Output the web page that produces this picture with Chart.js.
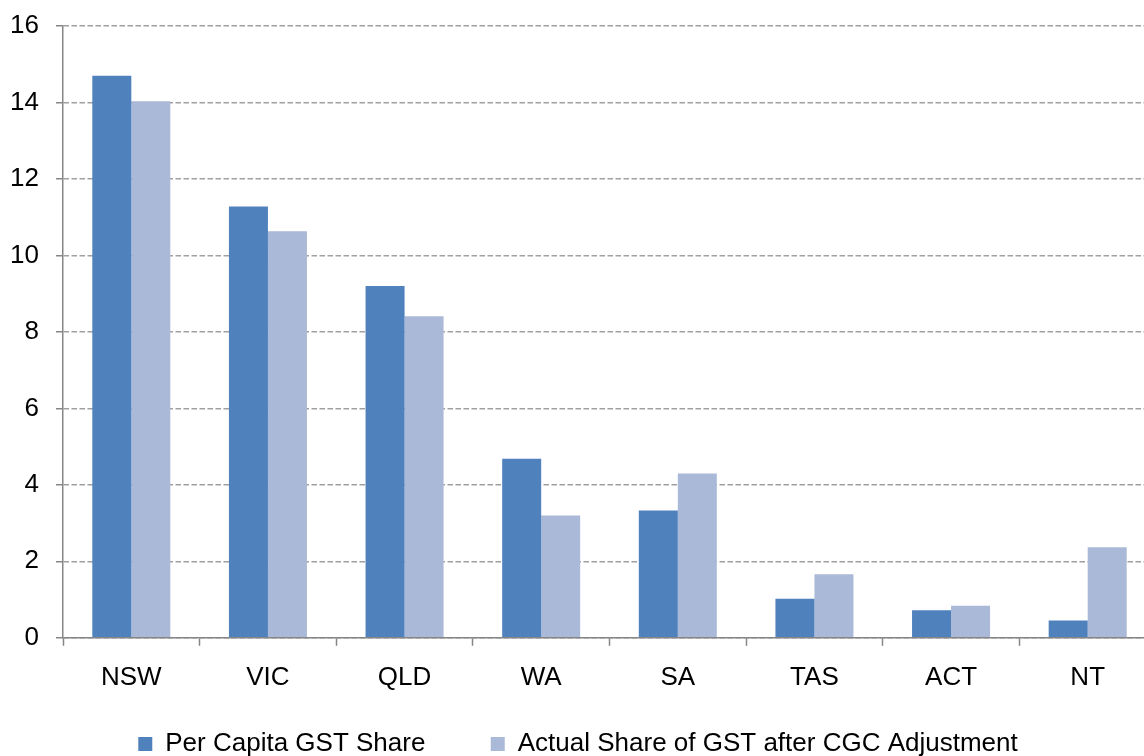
<!DOCTYPE html>
<html>
<head>
<meta charset="utf-8">
<script src="https://cdn.jsdelivr.net/npm/chart.js@4/dist/chart.umd.min.js"></script>
<style>
  html, body { margin: 0; padding: 0; background: #fff; overflow: hidden; }
  #wrap { position: relative; width: 1158px; height: 767px; }
</style>
</head>
<body>
<div id="wrap"><canvas id="chartGst"></canvas></div>
<script>
// states along the x axis
const states = ["NSW", "VIC", "QLD", "WA", "SA", "TAS", "ACT", "NT"];
// per capita GST share (%)
const perCapitaShare = [14.70, 11.28, 9.20, 4.68, 3.33, 1.02, 0.72, 0.45];
// actual share of GST after the CGC adjustment (%)
const actualShare = [14.03, 10.63, 8.41, 3.20, 4.30, 1.66, 0.84, 2.37];
// y axis ticks
const yTicks = [0, 2, 4, 6, 8, 10, 12, 14, 16];

const fontFamily = "'Liberation Sans', Arial, sans-serif";
const axisGrey = "#868686";

var ctx = document.getElementById("chartGst");
var myChart = new Chart(ctx, {
  type: "bar",
  data: {
    labels: states,
    datasets: [
      {
        label: "Per Capita GST Share",
        data: perCapitaShare,
        backgroundColor: "#4f81bd",
        borderWidth: 0,
      },
      {
        label: "Actual Share of GST after CGC Adjustment",
        data: actualShare,
        backgroundColor: "#aab9d7",
        borderWidth: 0,
      },
    ],
  },
  options: {
    responsive: true,
    maintainAspectRatio: false,
    animation: false,
    layout: {
      padding: { left: 0, top: 2, right: 2, bottom: 0 },
    },
    datasets: {
      bar: {
        categoryPercentage: 0.571,
        barPercentage: 1.0,
      },
    },
    scales: {
      x: {
        grid: {
          drawOnChartArea: false,
          drawTicks: true,
          tickLength: 8,
          tickColor: axisGrey,
          tickWidth: 1.5,
          offset: true,
        },
        border: { display: true, color: axisGrey, width: 1.5 },
        ticks: {
          color: "#000",
          padding: 16,
          font: { family: fontFamily, size: 26 },
        },
      },
      y: {
        min: yTicks[0],
        max: yTicks[yTicks.length - 1],
        afterBuildTicks: (axis) => {
          axis.ticks = yTicks.map((v) => ({ value: v }));
        },
        afterFit: (axis) => {
          axis.width = 63;
          axis.paddingTop = 26;
        },
        grid: {
          color: "#a0a0a0",
          lineWidth: 1.5,
          drawTicks: true,
          tickLength: 7,
          tickColor: axisGrey,
          tickWidth: 1.5,
          tickBorderDash: [],
        },
        border: { display: true, color: axisGrey, width: 1.5, dash: [5.5, 2.5] },
        ticks: {
          color: "#000",
          padding: 17,
          font: { family: fontFamily, size: 26 },
        },
      },
    },
    plugins: {
      legend: {
        position: "bottom",
        labels: {
          color: "#000",
          boxWidth: 14,
          boxHeight: 14,
          padding: 22,
          font: { family: fontFamily, size: 26 },
          generateLabels: (chart) => {
            let items = Chart.defaults.plugins.legend.labels.generateLabels(chart);
            // wider gap after the first entry
            items[0].text = items[0].text + "      ";
            return items;
          },
        },
      },
      tooltip: { enabled: false },
    },
  },
});
</script>
</body>
</html>
